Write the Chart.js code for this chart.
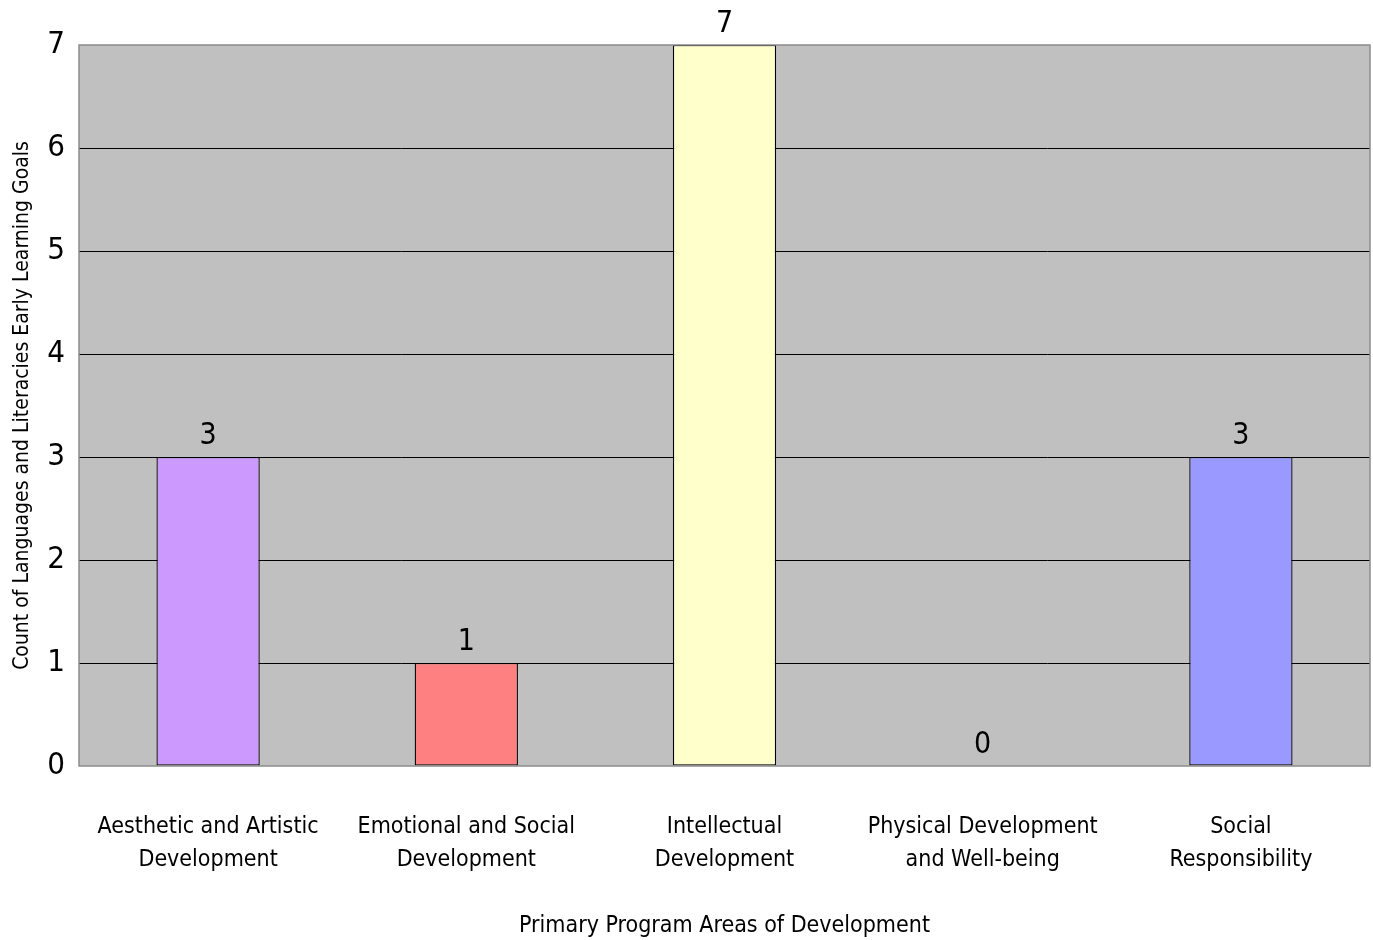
<!DOCTYPE html>
<html>
<head>
<meta charset="utf-8">
<script src="https://cdn.jsdelivr.net/npm/chart.js@4.4.1/dist/chart.umd.min.js"></script>
<style>
  html, body { margin: 0; padding: 0; background: #fff; }
  #wrap { width: 1373px; height: 940px; }
</style>
</head>
<body>
<div id="wrap"><canvas id="chart"></canvas></div>
<script>
// data
const categories = [
  ["Aesthetic and Artistic", "Development"],
  ["Emotional and Social", "Development"],
  ["Intellectual", "Development"],
  ["Physical Development", "and Well-being"],
  ["Social", "Responsibility"]
];
const counts = [3, 1, 7, 0, 3];
const barColors = ["#cc99ff", "#ff8080", "#ffffcc", "#ccffff", "#9999ff"];
const yTicks = [0, 1, 2, 3, 4, 5, 6, 7];

const FONT = "'Liberation Sans Narrow', 'DejaVu Sans Condensed', sans-serif";

// gray plot background + border
const plotBg = {
  id: "plotBg",
  beforeDraw(chart) {
    const { ctx, chartArea: a } = chart;
    ctx.save();
    ctx.fillStyle = "#c0c0c0";
    ctx.fillRect(a.left, a.top, a.right - a.left, a.bottom - a.top);
    ctx.restore();
  },
  afterDatasetsDraw(chart) {
    const { ctx, chartArea: a } = chart;
    ctx.save();
    ctx.strokeStyle = "#8c8c8c";
    ctx.lineWidth = 1.5;
    ctx.strokeRect(a.left, a.top, a.right - a.left, a.bottom - a.top);
    ctx.restore();
  }
};

// value labels above bars
const valueLabels = {
  id: "valueLabels",
  afterDraw(chart) {
    const { ctx } = chart;
    const meta = chart.getDatasetMeta(0);
    const y = chart.scales.y;
    ctx.save();
    ctx.font = "30px " + FONT;
    ctx.fillStyle = "#000";
    ctx.textAlign = "center";
    ctx.textBaseline = "bottom";
    meta.data.forEach((bar, i) => {
      ctx.fillText(String(counts[i]), bar.x, y.getPixelForValue(counts[i]) - 6);
    });
    ctx.restore();
  }
};

new Chart(document.getElementById("chart"), {
  type: "bar",
  data: {
    labels: categories,
    datasets: [{
      data: counts,
      backgroundColor: barColors,
      borderColor: "#000",
      borderWidth: 1.3,
      borderSkipped: false,
      barPercentage: 0.4,
      categoryPercentage: 1
    }]
  },
  options: {
    responsive: true,
    maintainAspectRatio: false,
    animation: false,
    layout: { padding: { top: 45, right: 3, left: 0, bottom: 0 } },
    plugins: {
      legend: { display: false },
      tooltip: { enabled: false }
    },
    scales: {
      x: {
        grid: { display: false },
        border: { display: false },
        ticks: {
          color: "#000",
          padding: 36,
          maxRotation: 0,
          autoSkip: false,
          font: { family: FONT, size: 23, lineHeight: 1.45 }
        },
        title: {
          display: true,
          text: "Primary Program Areas of Development",
          color: "#000",
          font: { family: FONT, size: 23 },
          padding: { top: 20, bottom: 0 }
        },
        afterFit(scale) { scale.height = 940 - 766; }
      },
      y: {
        min: 0,
        max: 7,
        afterBuildTicks(scale) {
          scale.ticks = yTicks.map(v => ({ value: v }));
        },
        grid: {
          color: ctx => (ctx.tick && ctx.tick.value > 0 && ctx.tick.value < 7) ? "#000" : "rgba(0,0,0,0)",
          lineWidth: 1,
          drawTicks: false
        },
        border: { display: false },
        ticks: {
          color: "#000",
          padding: 14,
          font: { family: FONT, size: 31 }
        },
        title: {
          display: true,
          text: "Count of Languages and Literacies Early Learning Goals",
          color: "#000",
          font: { family: FONT, size: 21 },
          padding: { top: 10, bottom: 8 }
        },
        afterFit(scale) { scale.width = 79; }
      }
    }
  },
  plugins: [plotBg, valueLabels]
});
</script>
</body>
</html>
